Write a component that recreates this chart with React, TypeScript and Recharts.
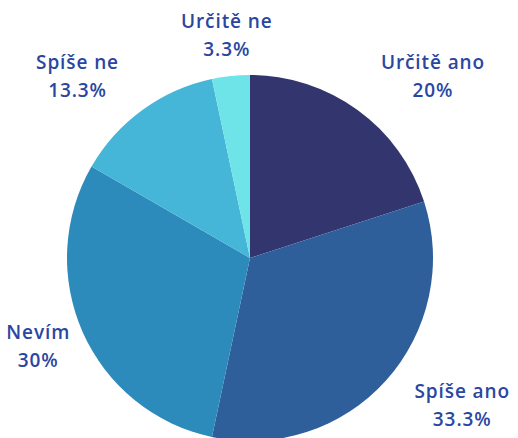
import { PieChart, Pie, Cell } from "recharts"

const categories = ["Určitě ano", "Spíše ano", "Nevím", "Spíše ne", "Určitě ne"]
const counts = [6, 10, 9, 4, 1]
const percentLabels = ["20%", "33.3%", "30%", "13.3%", "3.3%"]
const colors = ["#32356e", "#2e5f9b", "#2d8bbc", "#45b6d7", "#6ee4e9"]

const data = categories.map((name, i) => ({ name, value: counts[i], pct: percentLabels[i] }))

const RAD = Math.PI / 180
const CHAR_W = 10.5

// label block sits outside the slice along its mid angle, lines centred in the block
function renderLabel(props: any) {
  const { cx, cy, midAngle, outerRadius, index } = props
  const r = outerRadius + 39
  const cos = Math.cos(-midAngle * RAD)
  const sin = Math.sin(-midAngle * RAD)
  const ax = cx + r * cos
  const y = cy + r * sin
  const d = data[index]
  const w = Math.max(d.name.length, d.pct.length) * CHAR_W
  let x = ax
  if (Math.abs(cos) >= 0.2) {
    x = cos > 0 ? ax + w / 2 : Math.max(ax - w, 12) + w / 2
  }
  return (
    <text
      x={x}
      y={y}
      textAnchor="middle"
      fill="#2a46a1"
      fontFamily="'Open Sans', sans-serif"
      fontWeight={600}
      fontSize={19}
      letterSpacing={0.9}
    >
      <tspan x={x} dy={-9}>{d.name}</tspan>
      <tspan x={x} dy={28}>{d.pct}</tspan>
    </text>
  )
}

export default function App() {
  return (
    <div style={{ position: "absolute", left: 0, top: 0, width: 518, height: 438, background: "#fff" }}>
      <PieChart width={518} height={438} margin={{ top: 0, right: 0, bottom: 0, left: 0 }}>
        <Pie
          data={data}
          dataKey="value"
          cx={250}
          cy={258}
          outerRadius={183}
          startAngle={90}
          endAngle={-270}
          stroke="none"
          label={renderLabel}
          labelLine={false}
          isAnimationActive={false}
        >
          {data.map((d, i) => (
            <Cell key={d.name} fill={colors[i]} />
          ))}
        </Pie>
      </PieChart>
    </div>
  )
}
